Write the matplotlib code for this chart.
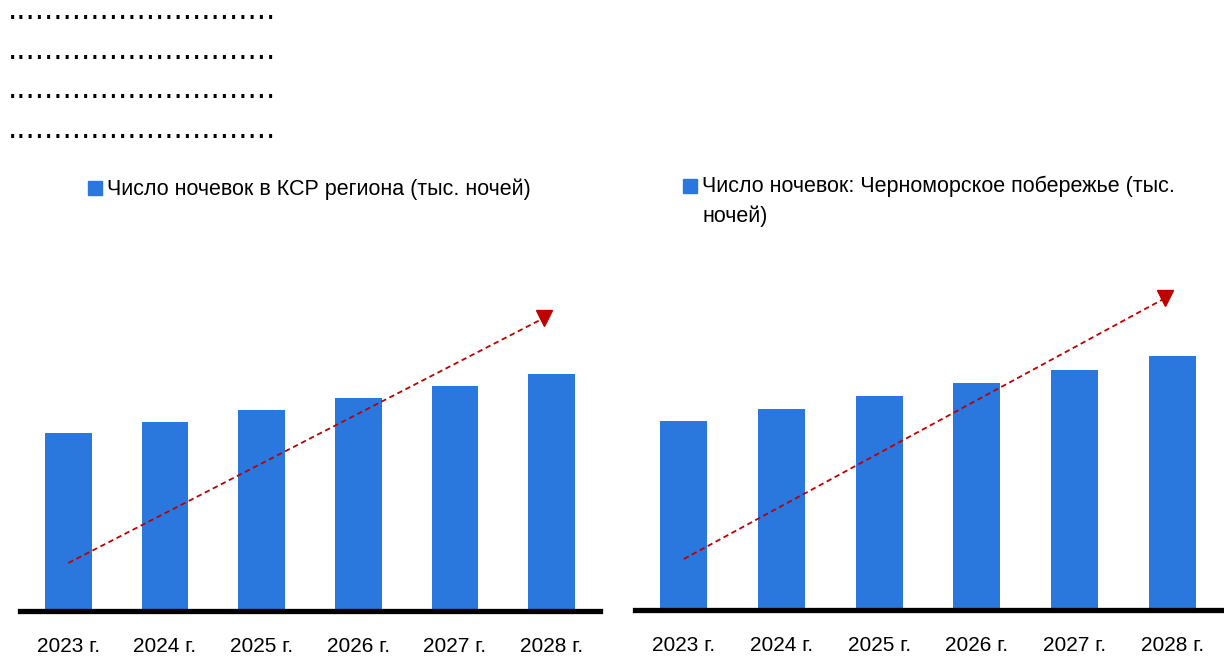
import matplotlib
matplotlib.use("Agg")
import matplotlib.pyplot as plt
from matplotlib.patches import Rectangle
from matplotlib import font_manager

# ── data ─────────────────────────────────────────────────────────────────────
years = ["2023 г.", "2024 г.", "2025 г.", "2026 г.", "2027 г.", "2028 г."]
nights_region = [178, 189, 201, 213, 225, 237]      # тыс. ночей, КСР региона
nights_coast = [189, 201, 214, 227, 240, 254]       # тыс. ночей, Черноморское побережье
label_region = "Число ночевок в КСР региона (тыс. ночей)"
label_coast = "Число ночевок: Черноморское побережье (тыс.\nночей)"

BLUE = "#2A77DE"
RED = "#C00000"

names = {f.name for f in font_manager.fontManager.ttflist}
FONT = "Liberation Sans Narrow" if "Liberation Sans Narrow" in names else "Liberation Sans"
plt.rcParams["font.family"] = [FONT, "DejaVu Sans"]

W, H = 1224, 662
fig = plt.figure(figsize=(W / 100, H / 100), dpi=100)


def px_axes(x0, x1, y_top, y_bot):
    return fig.add_axes([x0 / W, 1 - y_bot / H, (x1 - x0) / W, (y_bot - y_top) / H])


def draw_panel(ax, values, trend_from, trend_to):
    xs = range(len(values))
    ax.bar(xs, values, width=0.48, color=BLUE, zorder=2)
    ax.set_xlim(-0.5, len(values) - 0.5)
    ax.set_ylim(0, 360)
    ax.set_xticks(list(xs))
    ax.set_xticklabels(years, fontsize=15)
    ax.tick_params(axis="x", length=0, pad=19)
    ax.set_yticks([])
    for s in ("top", "left", "right"):
        ax.spines[s].set_visible(False)
    ax.spines["bottom"].set_linewidth(3.8)
    ax.spines["bottom"].set_zorder(3)
    # dashed trend line with a triangular head
    (x0, y0), (x1, y1) = trend_from, trend_to
    ax.plot([x0, x1], [y0, y1], color=RED, lw=1.3, linestyle=(0, (3, 2)),
            zorder=4, clip_on=False)
    ax.plot([x1], [y1], marker="v", ms=12, color=RED, mec=RED, zorder=5,
            clip_on=False)


ax1 = px_axes(20, 600, 251, 611)
draw_panel(ax1, nights_region, (0, 48), (4.92, 293))

ax2 = px_axes(635, 1221, 250, 610)
draw_panel(ax2, nights_coast, (0, 51), (4.93, 312))


# legends drawn by hand so the swatch sits by the first line
def legend_item(x, y, text):
    fig.add_artist(Rectangle((x / W, 1 - (y + 7) / H), 14 / W, 14 / H,
                             transform=fig.transFigure, color=BLUE))
    fig.text((x + 19) / W, 1 - (y - 10) / H, text, fontsize=15.5,
             ha="left", va="top", linespacing=1.5)


legend_item(88, 188, label_region)
legend_item(683, 186, label_coast)

# placeholder dotted lines in the top-left corner
for yb in (19, 59, 98, 138):
    fig.text(8 / W, 1 - yb / H, "." * 29, fontsize=21.1, family="DejaVu Sans",
             ha="left", va="baseline")

fig.savefig("out.png", dpi=100)
